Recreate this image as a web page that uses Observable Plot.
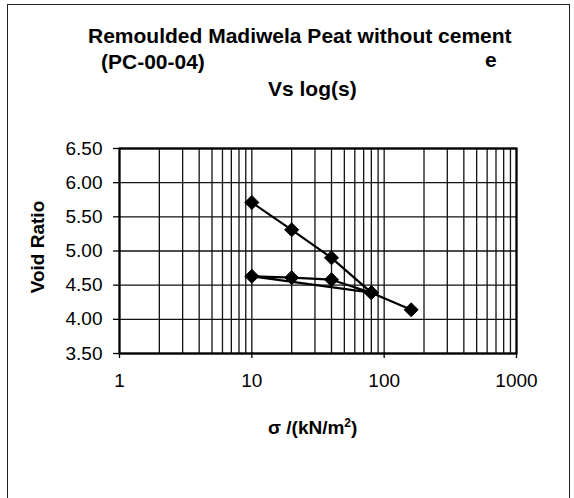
<!DOCTYPE html>
<html>
<head>
<meta charset="utf-8">
<script src="https://cdn.jsdelivr.net/npm/d3@7"></script>
<script src="https://cdn.jsdelivr.net/npm/@observablehq/plot@0.6"></script>
<style>
  html, body { margin: 0; padding: 0; background: #fff; }
  #wrap { position: relative; width: 574px; height: 498px; overflow: hidden; font-family: "Liberation Sans", Arial, sans-serif; color: #000; }
  #border { position: absolute; left: 7px; top: 4px; width: 563px; height: 500px; border-left: 1.5px solid #222; border-top: 1.5px solid #222; border-right: 1.5px solid #222; box-sizing: border-box; }
  .t { position: absolute; font-weight: bold; font-size: 21px; white-space: nowrap; line-height: 1; }
  #plot { position: absolute; left: 0; top: 0; }
</style>
</head>
<body>
<div id="wrap">
  <div id="border"></div>
  <div id="plot"></div>
  <div class="t" style="left:88px; top:25px;">Remoulded Madiwela Peat without cement</div>
  <div class="t" style="left:101px; top:51px;">(PC-00-04)</div>
  <div class="t" style="left:485px; top:49px;">e</div>
  <div class="t" style="left:268px; top:78px;">Vs log(s)</div>
  <div class="t" style="left:268px; top:418px; font-size:19px;">σ /(kN/m<sup style="font-size:12px; vertical-align: 7px; line-height:0;">2</sup>)</div>
  <div class="t" style="left:37px; top:247px; font-size:19px; transform: translate(-50%,-50%) rotate(-90deg);">Void Ratio</div>
</div>
<script>
// Data (loading, unloading, reloading, loading)
const stress = [10, 20, 40, 80, 10, 20, 40, 80, 160];
const voidRatio = [5.71, 5.31, 4.90, 4.39, 4.63, 4.61, 4.58, 4.39, 4.14];
const xTicks = [1, 10, 100, 1000];
const yTicks = [3.5, 4.0, 4.5, 5.0, 5.5, 6.0, 6.5];
const xGrid = [1,2,3,4,5,6,7,8,9,10,20,30,40,50,60,70,80,90,100,200,300,400,500,600,700,800,900,1000];

const data = stress.map((s, i) => ({s, e: voidRatio[i]}));

const diamond = {
  draw(ctx, size) {
    const h = Math.sqrt(size / Math.PI) * 1.4;
    ctx.moveTo(0, -h); ctx.lineTo(h, 0); ctx.lineTo(0, h); ctx.lineTo(-h, 0); ctx.closePath();
  }
};

const chart = Plot.plot({
  width: 574,
  height: 498,
  marginLeft: 119,
  marginRight: 58,
  marginTop: 148,
  marginBottom: 145,
  style: { fontFamily: "'Liberation Sans', Arial, sans-serif", fontSize: "19px", color: "#000", background: "transparent", overflow: "visible" },
  x: { type: "log", domain: [1, 1000] },
  y: { domain: [3.5, 6.5] },
  marks: [
    Plot.ruleX(xGrid, { stroke: "#111", strokeWidth: 1.3 }),
    Plot.ruleY(yTicks, { stroke: "#111", strokeWidth: 1.3 }),
    Plot.frame({ stroke: "#000", strokeWidth: 2.2 }),
    Plot.axisY(yTicks, { tickFormat: d3.format(".2f"), tickSize: 6, tickPadding: 11, stroke: "#000", strokeWidth: 1.3, fontSize: 19, label: null }),
    Plot.axisX(xTicks, { tickFormat: d => String(d), tickSize: 5, tickPadding: 15, stroke: "#000", strokeWidth: 1.3, fontSize: 19, label: null }),
    Plot.line(data, { x: "s", y: "e", stroke: "#000", strokeWidth: 2.2 }),
    Plot.dot(data, { x: "s", y: "e", symbol: diamond, r: 5, fill: "#000", stroke: "#000", strokeWidth: 1 })
  ]
});
document.getElementById("plot").appendChild(chart);
</script>
</body>
</html>
